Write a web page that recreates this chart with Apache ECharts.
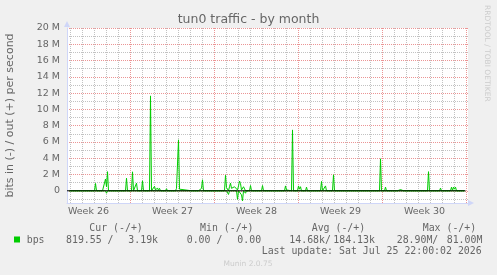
<!DOCTYPE html>
<html>
<head>
<meta charset="utf-8">
<title>tun0 traffic - by month</title>
<script src="https://cdn.jsdelivr.net/npm/echarts@6/dist/echarts.min.js"></script>
<style>
html, body { margin: 0; padding: 0; background: #f0f0f0; }
#chart { width: 497px; height: 275px; }
</style>
</head>
<body>
<div id="chart"></div>
<script>
// hours since graph start (Mon Jun 22 22:00), values in Mbit/s
var outHours = [0, 26, 28, 30, 50, 52, 54, 60, 62, 64, 66, 70, 72, 74, 76, 78, 84, 86, 88,
    112, 114, 116, 124, 126, 128, 132, 134, 136, 144, 146, 148, 160, 162, 164,
    168, 170, 172, 174, 176, 178, 180, 182, 192, 194, 196, 212, 214, 216, 218, 220, 222, 224,
    244, 246, 248, 258, 260, 262, 264, 266, 268, 296, 298, 300,
    310, 312, 314, 316, 318, 320, 322, 324, 326, 328, 330, 332, 334, 336, 338, 340, 342, 344, 346, 348, 350, 352,
    360, 362, 364, 384, 386, 388, 406, 408, 410, 430, 432, 434, 436, 438, 444, 446, 448,
    456, 458, 460, 462, 464, 472, 474, 476, 502, 504, 506, 510, 512, 514, 526, 528, 530,
    552, 554, 556, 620, 622, 624, 630, 632, 634, 646, 648, 650, 656, 658, 660, 662, 664, 666, 668,
    716, 718, 720, 740, 742, 744, 762, 764, 766, 768, 770, 772, 774, 790];
var outMbps = [0, 0, 0.1, 0, 0, 0.9, 0, 0, 0.2, 0.2, 0, 0, 1.45, 0.5, 2.35, 0, 0, 0.1, 0,
    0, 1.55, 0, 0, 2.33, 0, 0, 0.94, 0, 0, 1.23, 0, 0, 11.66, 0,
    0, 0.55, 0.1, 0, 0.35, 0.05, 0.3, 0, 0, 0.25, 0, 0, 0.3, 0.2, 6.26, 0.2, 0.1, 0,
    0, 0.05, 0, 0, 0.1, 0, 0.3, 1.35, 0, 0, 0.1, 0,
    0, 1.9, 0.4, 0.2, 0, 0.5, 0.94, 0.3, 0.4, 0.3, 0.5, 0.4, 0.6, 0.1, 0.6, 1.2, 0.9, 0.1, 0.2, 0.5, 0.3, 0,
    0, 0.65, 0, 0, 0.65, 0, 0, 0.2, 0, 0, 0.6, 0.1, 0.2, 0, 0, 7.48, 0,
    0, 0.6, 0.2, 0.5, 0, 0, 0.45, 0, 0, 1.15, 0, 0, 0.6, 0, 0, 1.96, 0,
    0, 0.12, 0, 0, 3.93, 0, 0, 0.45, 0, 0, 0.12, 0, 0, 0.12, 0, 0.15, 0, 0.2, 0,
    0, 2.35, 0, 0, 0.33, 0, 0, 0.45, 0.05, 0.45, 0.2, 0.45, 0, 0];
var inHours = [0, 72, 74, 76, 172, 174, 176, 180, 182, 184, 314, 316, 318, 320,
    334, 336, 338, 342, 344, 346, 348, 350, 352, 354, 446, 448, 450, 764, 766, 768, 790];
var inMbps = [0, 0, -0.3, 0, 0, -0.15, 0, 0, -0.15, 0, 0, -0.2, -0.45, 0,
    0, -1.05, 0, 0, -0.5, -1.25, 0, 0, -0.3, 0, 0, -0.2, 0, 0, -0.2, 0, 0];

var weekLabels = ['Week 26', 'Week 27', 'Week 28', 'Week 29', 'Week 30'];
var legendHead = ['Cur (-/+)', 'Min (-/+)', 'Avg (-/+)', 'Max (-/+)'];
var legendVals = ['819.55 /', '3.19k', '0.00 /', '0.00', '14.68k/', '184.13k', '28.90M/', '81.00M'];

// x axis: hours since Sun Jun 21 00:00, so midnights / sundays fall on multiples
var START = 46, SPAN = 792;
// axis range: half a pixel per hour over the 401px plot, so grid lines land on whole pixels
var XMIN = 41, XMAX = 843;
var YMIN = -1.5, YMAX = 20;

function pairs(hours, vals) {
    var d = [];
    for (var i = 0; i < hours.length; i++) d.push([START + hours[i], vals[i]]);
    return d;
}

var font = '"DejaVu Sans", sans-serif';
var mono = '"DejaVu Sans Mono", monospace';
var txt = '#666666';
var grid = 'rgba(143,143,143,0.55)';
var mgrid = 'rgba(222,79,79,0.6)';
var axisCol = '#CFD6F8';

var myChart = echarts.init(document.getElementById('chart'), null, {renderer: 'canvas'});

var texts = [
    {x: 248.5, y: 19.3, text: 'tun0 traffic - by month', font: '12.5px ' + font, align: 'center'},
    {x: 248, y: 264.3, text: 'Munin 2.0.75', font: '7.5px ' + font, align: 'center', fill: '#cccccc'},
    {x: 261.7, y: 251.8, text: 'Last update: Sat Jul 25 22:00:02 2026', font: '9.9px ' + mono},
    {x: 26.7, y: 240, text: 'bps', font: '9.9px ' + mono}
];
var headX = [89.3, 200, 311.7, 422.7];
legendHead.forEach(function (s, i) {
    texts.push({x: headX[i], y: 228.4, text: s, font: '9.9px ' + mono});
});
var valX = [66, 128.3, 186.7, 237.3, 289.3, 333.3, 396.7, 446.7];
legendVals.forEach(function (s, i) {
    texts.push({x: valX[i], y: 240, text: s, font: '9.9px ' + mono});
});

var graphics = texts.map(function (t) {
    return {
        type: 'text', x: t.x, y: t.y, silent: true,
        style: {text: t.text, font: t.font, fill: t.fill || txt, align: t.align || 'left', verticalAlign: 'middle'}
    };
});
graphics.push({
    type: 'text', x: 10.5, y: 115.5, rotation: Math.PI / 2, silent: true,
    style: {text: 'bits in (-) / out (+) per second', font: '11px ' + font, fill: txt, align: 'center', verticalAlign: 'middle'}
});
graphics.push({
    type: 'text', x: 487.3, y: 53.3, rotation: -Math.PI / 2, silent: true,
    style: {text: 'RRDTOOL / TOBI OETIKER', font: '7.5px ' + font, fill: '#cccccc', align: 'center', verticalAlign: 'middle'}
});
graphics.push({
    type: 'rect', shape: {x: 14, y: 236.5, width: 6, height: 6}, silent: true,
    style: {fill: '#00cc00'}
});

// helper: an invisible axis whose split lines sit at (multiple of step) + shift
function gridAxis(min, max, step, shift, color) {
    return {
        type: 'value', min: min - shift, max: max - shift, minInterval: step, maxInterval: step,
        axisLine: {show: false, onZero: false}, axisTick: {show: false, interval: 0}, axisLabel: {show: false, interval: 0},
        splitLine: {show: true, interval: 0, showMinLine: false, showMaxLine: false, lineStyle: {color: color, type: [1, 1], width: 1}}
    };
}

var xAxes = [
    {
        // data axis, also draws the bottom axis line with its arrow
        type: 'value', min: XMIN, max: XMAX, position: 'bottom',
        axisLine: {show: true, onZero: false, symbol: ['none', 'triangle'], symbolSize: [6, 6], symbolOffset: [0, 3], lineStyle: {color: axisCol, width: 1}},
        axisTick: {show: false}, axisLabel: {show: false}, splitLine: {show: false}
    },
    {
        // week labels sit in the middle of each week (half a week after sunday)
        type: 'value', min: XMIN - 84, max: XMAX - 84, minInterval: 168, maxInterval: 168, position: 'bottom',
        axisLine: {show: false, onZero: false}, axisTick: {show: false}, splitLine: {show: false},
        axisLabel: {
            show: true, margin: 4, color: txt, fontSize: 9.5, fontFamily: font,
            showMinLabel: false, showMaxLabel: false,
            formatter: function (v) {
                return v % 168 === 0 && weekLabels[v / 168] ? weekLabels[v / 168] : '';
            }
        }
    }
];
// daily grey lines (one axis per weekday, sundays left for the red ones)
for (var k = 1; k < 7; k++) {
    var a = gridAxis(XMIN, XMAX, 168, 24 * k, grid);
    a.position = 'bottom';
    xAxes.push(a);
}
var redX = gridAxis(XMIN, XMAX, 168, 0, mgrid);
redX.position = 'bottom';
xAxes.push(redX);

var yAxes = [
    {
        type: 'value', min: YMIN, max: YMAX, position: 'left',
        axisLine: {show: true, onZero: false, symbol: ['none', 'triangle'], symbolSize: [6, 6], symbolOffset: [0, 4], lineStyle: {color: axisCol, width: 1}},
        axisTick: {show: false}, axisLabel: {show: false}, splitLine: {show: false}
    }
];
var greyY = gridAxis(YMIN, YMAX, 2, 1, grid);
greyY.position = 'left';
yAxes.push(greyY);
var redY = gridAxis(YMIN, YMAX, 2, 0, mgrid);
redY.position = 'left';
redY.splitLine.showMaxLine = true;
redY.axisLabel = {
    show: true, margin: 7, color: txt, fontSize: 9.5, fontFamily: font, showMinLabel: false,
    formatter: function (v) {
        if (v % 2 !== 0) return '';
        return v === 0 ? '0' : v + ' M';
    }
};
yAxes.push(redY);

var option = {
    animation: false,
    backgroundColor: '#f0f0f0',
    grid: {left: 67, top: 28, width: 401, height: 175, show: true, backgroundColor: '#ffffff', borderWidth: 0, outerBoundsMode: 'none'},
    graphic: graphics,
    xAxis: xAxes,
    yAxis: yAxes,
    series: [
        {
            name: 'bps', type: 'line', xAxisIndex: 0, yAxisIndex: 0, data: pairs(outHours, outMbps),
            showSymbol: false, symbol: 'none', lineStyle: {color: '#00cc00', width: 1}, itemStyle: {color: '#00cc00'}, z: 2
        },
        {
            name: 'bps in', type: 'line', xAxisIndex: 0, yAxisIndex: 0, data: pairs(inHours, inMbps),
            showSymbol: false, symbol: 'none', lineStyle: {color: '#00cc00', width: 1}, itemStyle: {color: '#00cc00'}, z: 2
        },
        {
            name: 'zero', type: 'line', xAxisIndex: 0, yAxisIndex: 0, data: [[XMIN, 0], [START + SPAN, 0]],
            showSymbol: false, symbol: 'none', lineStyle: {color: '#000000', width: 1}, z: 3, silent: true
        }
    ]
};
myChart.setOption(option);
</script>
</body>
</html>
